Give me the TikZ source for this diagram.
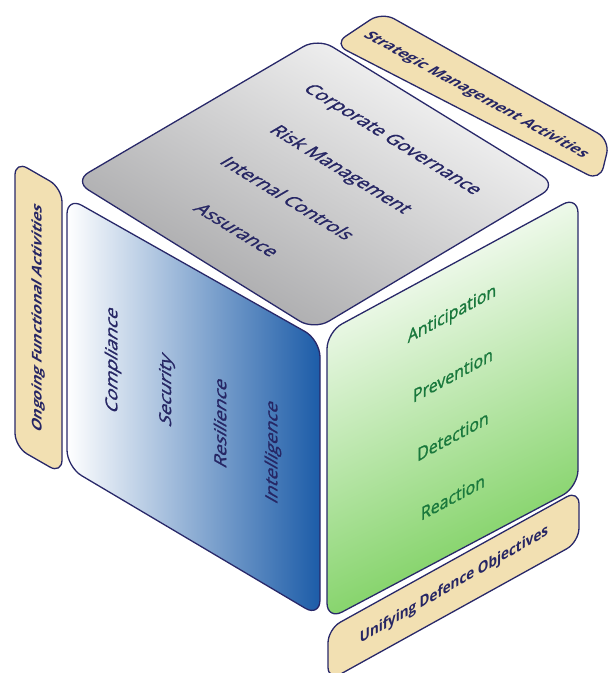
\documentclass[tikz,border=0pt]{standalone}
\usepackage{fontspec}
\setmainfont{Open Sans}
\newfontfamily\facefont[FakeBold=1.3]{Open Sans}
\definecolor{edge}{RGB}{40,40,105}
\definecolor{navytext}{RGB}{38,38,100}
\definecolor{greentext}{RGB}{25,120,60}
\definecolor{tan}{RGB}{242,224,178}
\definecolor{graylight}{RGB}{250,250,250}
\definecolor{graydark}{RGB}{163,163,165}
\definecolor{bluedark}{RGB}{28,92,168}
\definecolor{greendark}{RGB}{118,206,88}
\tikzset{
  facepath/.style={draw=edge, line width=1.3pt, rounded corners=17pt},
  bandpath/.style={draw=edge, line width=1.3pt, rounded corners=14pt, fill=tan},
  topplane/.style={cm={0.852,-0.524,0.863,0.506,(0,0)}},
  leftplane/.style={cm={0,1,-0.870,0.492,(0,0)}},
  rightplane/.style={cm={0.881,0.474,0,1,(0,0)}},
  bandtop/.style={cm={0.875,-0.485,0.863,0.506,(0,0)}},
  bandright/.style={cm={0.866,0.500,0,1,(0,0)}},
  facetxt/.style={inner sep=0pt, font=\facefont\fontsize{19}{22}\selectfont, text=navytext},
  greentxt/.style={inner sep=0pt, font=\facefont\fontsize{18}{22}\selectfont, text=greentext},
  bandtxt/.style={inner sep=0pt, font=\fontsize{15.5}{18}\selectfont\bfseries, text=navytext}
}
\begin{document}
\begin{tikzpicture}[x=1pt,y=-1pt]
\useasboundingbox (0,0) rectangle (608,673);
% bands
\path[bandpath] (334,44) -- (382,12) -- (610,140) -- (600,181) -- cycle;
\path[bandpath] (15,161) -- (62,188) -- (62,474) -- (15,447) -- cycle;
\path[bandpath] (328,629) -- (579,490) -- (579,542) -- (328,681) -- cycle;
% faces
\path[facepath, top color=graylight, bottom color=graydark, shading angle=-30]
  (74,181) -- (318,38) -- (557,185) -- (314,330) -- cycle;
\path[facepath, left color=white, right color=bluedark]
  (67,197) -- (320,340) -- (320,617) -- (67,467) -- cycle;
\path[facepath, top color=white, bottom color=greendark, shading angle=25]
  (327,332) -- (578,196) -- (578,487) -- (327,620) -- cycle;
% top face texts
\node[facetxt, topplane] (cg) at (392,140) {Corporate Governance};
\node[facetxt, topplane] (rm) at (340,170) {Risk Management};
\node[facetxt, topplane] (ic) at (288,198) {Internal Controls};
\node[facetxt, topplane] (as) at (237,230) {Assurance};
% left face texts
\node[facetxt, leftplane] (co) at (113,360) {Compliance};
\node[facetxt, leftplane] (se) at (167,390) {Security};
\node[facetxt, leftplane] (re) at (220,422) {Resilience};
\node[facetxt, leftplane] (in) at (273,452) {Intelligence};
% right face texts
\node[greentxt, rightplane] (an) at (452,315) {Anticipation};
\node[greentxt, rightplane] (pr) at (453,375) {Prevention};
\node[greentxt, rightplane] (de) at (453,436) {Detection};
\node[greentxt, rightplane] (rc) at (453,497) {Reaction};
% band texts
\node[bandtxt, bandtop] (sma) at (476,95) {Strategic Management Activities};
\node[bandtxt, leftplane] (ofa) at (38,318) {Ongoing Functional Activities};
\node[bandtxt, bandright] (udo) at (454,585) {Unifying Defence Objectives};
\end{tikzpicture}
\end{document}
